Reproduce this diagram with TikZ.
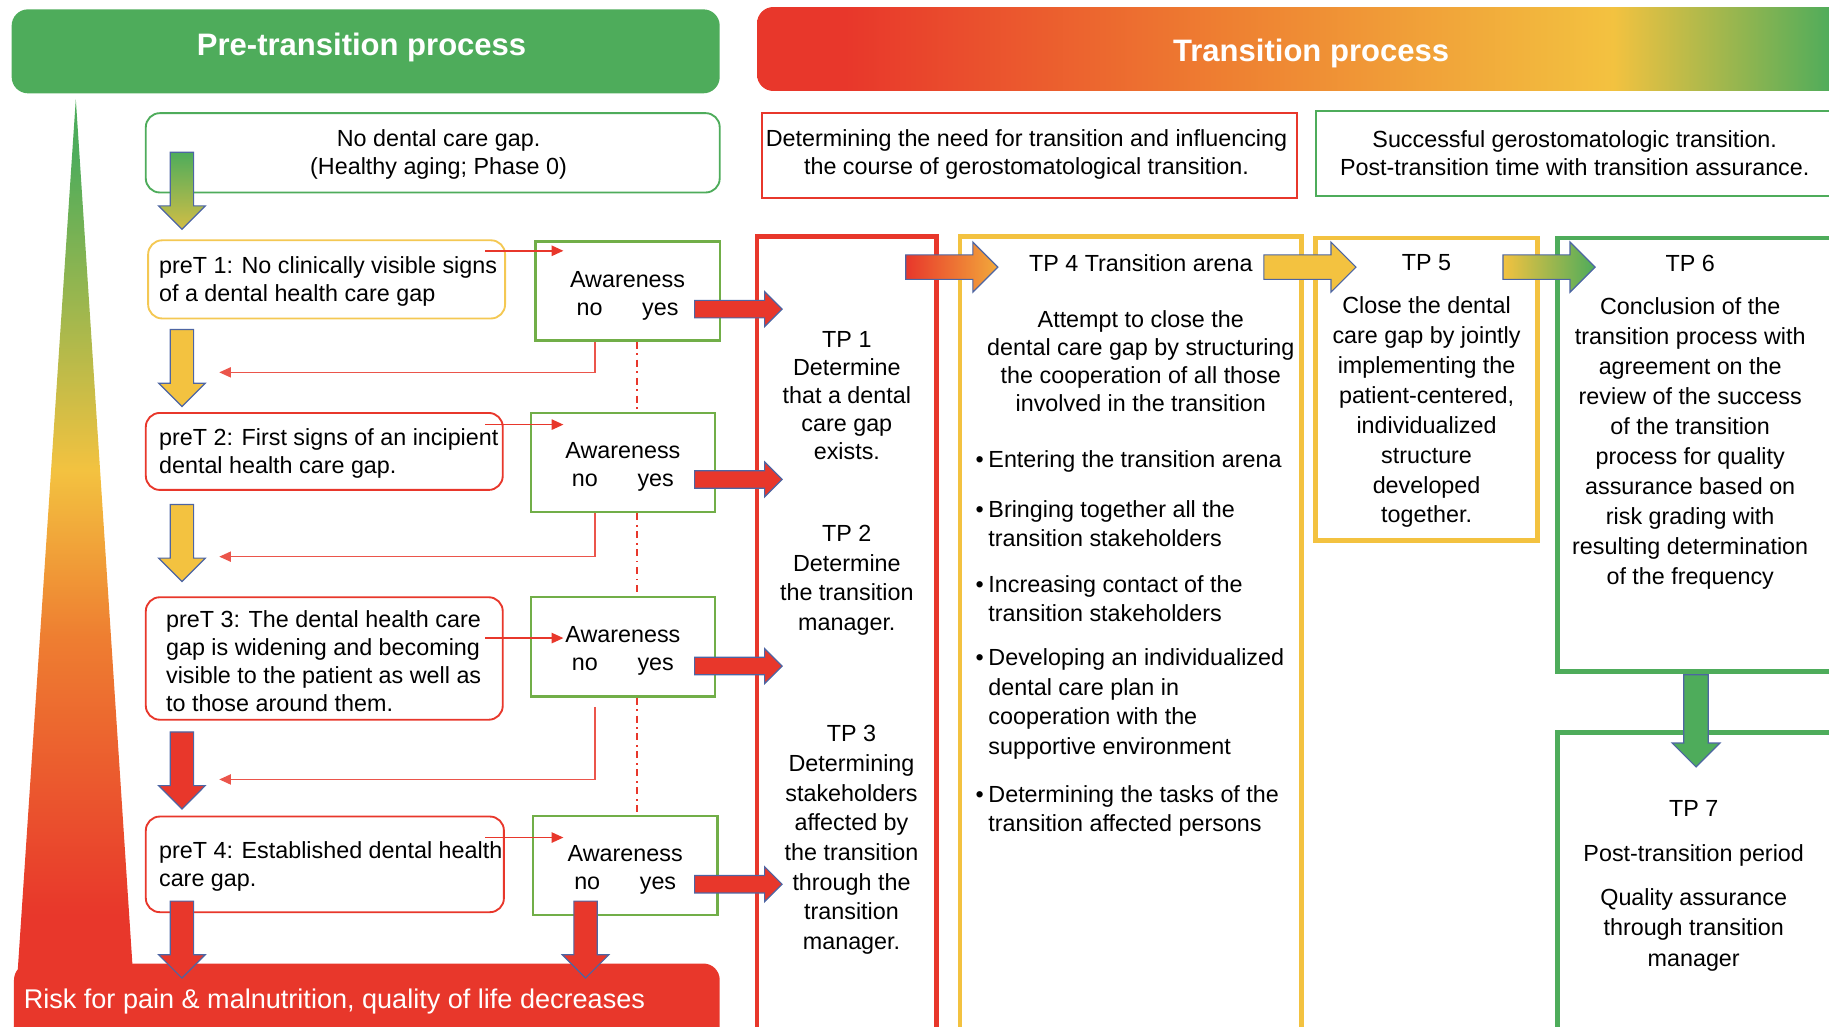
\documentclass[tikz,border=0pt]{standalone}
\usepackage{fontspec}
\setmainfont{Liberation Sans}
\usetikzlibrary{shapes.arrows,arrows.meta}

\definecolor{cred}{HTML}{E8372B}
\definecolor{cgreen}{HTML}{4EAC5B}
\definecolor{cyellow}{HTML}{F3C240}
\definecolor{corange}{HTML}{EE7E31}
\definecolor{colive}{HTML}{71AE48}
\definecolor{cblue}{HTML}{4D65A3}
\definecolor{camber}{HTML}{F2A93B}

% risk wedge: green at the apex, red at the base
\pgfdeclareverticalshading{riskshade}{100bp}{color(0bp)=(cred); color(31bp)=(cred); color(46bp)=(corange); color(55bp)=(cyellow); color(72bp)=(cgreen); color(100bp)=(cgreen)}
% transition banner: red -> orange -> yellow -> green
\pgfdeclarehorizontalshading{transshade}{100bp}{color(0bp)=(cred); color(29bp)=(cred); color(46bp)=(corange); color(64bp)=(cyellow); color(74bp)=(cgreen); color(100bp)=(cgreen)}

\newcommand\setfs[2]{\fontsize{#1}{#2}\selectfont}
\newcommand\bul{\makebox[5.5pt][l]{\textbullet}}

\begin{document}
\begin{tikzpicture}[x=0.5pt,y=-0.5pt,
  every node/.style={inner sep=0pt, font=\setfs{10}{12}},
  tx/.style={yshift=-1.25pt},
  rbox/.style={draw, rounded corners=6pt, line width=0.8pt, fill=white},
  awbox/.style={draw=colive, line width=1pt, fill=white, minimum width=79pt, minimum height=42.5pt},
  awtext/.style={tx, align=center},
  column/.style={draw, line width=2.1pt},
  coltext/.style={tx, align=center, font=\setfs{10}{12.7}},
  bullettext/.style={tx, anchor=west, align=left, font=\setfs{10}{12.6}},
  fatH/.style={single arrow, anchor=tail, draw=cblue, line width=0.5pt, inner sep=3.5pt, single arrow head extend=3.75pt, single arrow head indent=0pt, minimum height=37.5pt, fill=cred},
  fatV/.style={single arrow, anchor=tail, shape border rotate=270, draw=cblue, line width=0.5pt, inner sep=4.75pt, single arrow head extend=5pt, single arrow head indent=0pt, minimum height=33pt},
  fatT/.style={single arrow, anchor=tail, draw=cblue, line width=0.5pt, inner sep=5pt, single arrow head extend=5.5pt, single arrow head indent=0pt, minimum height=39.5pt},
  thinarr/.style={draw=cred, line width=0.65pt, -{Triangle[length=5pt,width=4.4pt]}},
  backline/.style={draw=cred!85, line width=0.55pt, -{Triangle[length=5pt,width=4.4pt]}},
  dashdot/.style={draw=cred, line width=0.8pt, dash pattern=on 3pt off 2pt on 0.7pt off 2pt},
  headtext/.style={tx, text=white, font=\bfseries\setfs{13.3}{16}}
]
\useasboundingbox (0,0) rectangle (1568,880);
\clip (0,0) rectangle (1568,880);

% ---------- pre-transition side ----------
\path[shade, shading=riskshade] (65,85) -- (117,880) -- (12,880) -- cycle;
\node[name=riskbar, fill=cred, rounded corners=7pt, minimum width=302.5pt, minimum height=37pt] at (314.5,863) {};
\node[name=risktext, tx, anchor=west, text=white, font=\setfs{11.6}{14}] at (20,856) {Risk for pain \& malnutrition, quality of life decreases};

\node[name=prehead, fill=cgreen, rounded corners=7pt, minimum width=303.5pt, minimum height=36pt] at (313.5,44) {};
\node[name=preheadt, headtext] at (310,38) {Pre-transition process};

% awareness checks
\node[name=aw1, awbox] at (538,249.5) {};
\node[name=aw2, awbox] at (534,396.5) {};
\node[name=aw3, awbox] at (534,554.5) {};
\node[name=aw4, awbox] at (536,742) {};
\node[name=aw1t, awtext] at (538,251) {Awareness\\no\hspace{17pt}yes};
\node[name=aw2t, awtext] at (534,398) {Awareness\\no\hspace{17pt}yes};
\node[name=aw3t, awtext] at (534,555.5) {Awareness\\no\hspace{17pt}yes};
\node[name=aw4t, awtext] at (536,743) {Awareness\\no\hspace{17pt}yes};
\draw[dashdot] ([xshift=4pt]aw1.south) -- ([xshift=4pt]aw1.south |- aw2.north);
\draw[dashdot] ([xshift=6pt]aw2.south) -- ([xshift=6pt]aw2.south |- aw3.north);
\draw[dashdot] ([xshift=6pt]aw3.south) -- ([xshift=6pt]aw3.south |- aw4.north);

\node[name=nogap, rbox, draw=cgreen, minimum width=246pt, minimum height=34pt] at (371,131) {};
\node[name=nogapt, tx, align=center] at (376,130) {No dental care gap.\\(Healthy aging; Phase 0)};

\node[name=pre1, rbox, draw=cyellow!90!white, minimum width=153pt, minimum height=33.5pt] at (280,239.5) {};
\node[name=pre1t, tx, anchor=west, align=left] at (136,238.5) {preT 1: No clinically visible signs\\of a dental health care gap};
\node[name=pre2, rbox, draw=cred, minimum width=153pt, minimum height=33pt] at (278,387) {};
\node[name=pre2t, tx, anchor=west, align=left] at (136,386.5) {preT 2: First signs of an incipient\\dental health care gap.};
\node[name=pre3, rbox, draw=cred, minimum width=153pt, minimum height=52.5pt] at (278,564.5) {};
\node[name=pre3t, tx, anchor=west, align=left] at (142,564.5) {preT 3: The dental health care\\gap is widening and becoming\\visible to the patient as well as\\to those around them.};
\node[name=pre4, rbox, draw=cred, minimum width=153.5pt, minimum height=41pt] at (278.5,741) {};
\node[name=pre4t, tx, anchor=west, align=left] at (136,740.5) {preT 4: Established dental health\\care gap.};

% ---------- transition side ----------
\node[name=transhead, shade, shading=transshade, rounded corners=7pt, minimum width=470.5pt, minimum height=36pt] at (1119.5,42) {};
\node[name=transheadt, headtext] at (1124,43) {Transition process};

\node[name=need, draw=cred, line width=1pt, minimum width=229.5pt, minimum height=36.5pt] at (882.5,133.5) {};
\node[name=needt, tx, align=center] at (880,130) {Determining the need for transition and influencing\\the course of gerostomatological transition.};
\node[name=success, draw=cgreen, line width=1pt, minimum width=236pt, minimum height=36.5pt] at (1364,131.5) {};
\node[name=successt, tx, align=center] at (1350,128.5) {Successful gerostomatologic transition.\\Post-transition time with transition assurance.};

\node[name=tp13, column, draw=cred, minimum width=77pt, minimum height=348.5pt] at (726,551.5) {};
\node[name=tp4, column, draw=cyellow, minimum width=146.5pt, minimum height=348.5pt] at (969.5,551.5) {};
\node[name=tp5, column, draw=cyellow, minimum width=95pt, minimum height=129.5pt] at (1223,333.5) {};
\node[name=tp6, column, draw=cgreen, minimum width=132.5pt, minimum height=186pt] at (1467.5,390) {};
\node[name=tp7, column, draw=cgreen, minimum width=132.5pt, minimum height=136pt] at (1467.5,764) {};

\node[name=tp1t, coltext, font=\setfs{10}{12}] at (726,337) {TP 1\\Determine\\that a dental\\care gap\\exists.};
\node[name=tp2t, coltext] at (726,495) {TP 2\\Determine\\the transition\\manager.};
\node[name=tp3t, coltext] at (730,717.5) {TP 3\\Determining\\stakeholders\\affected by\\the transition\\through the\\transition\\manager.};

\node[name=tp4title, tx] at (978,223) {TP 4 Transition arena};
\node[name=tp4t, tx, align=center] at (978,307.5) {Attempt to close the\\dental care gap by structuring\\the cooperation of all those\\involved in the transition};
\node[name=b1, bullettext] at (836,393) {\bul Entering the transition arena};
\node[name=b2, bullettext] at (836,446.5) {\bul Bringing together all the\\\hspace*{5.5pt}transition stakeholders};
\node[name=b3, bullettext] at (836,510.5) {\bul Increasing contact of the\\\hspace*{5.5pt}transition stakeholders};
\node[name=b4, bullettext] at (836,601) {\bul Developing an individualized\\\hspace*{5.5pt}dental care plan in\\\hspace*{5.5pt}cooperation with the\\\hspace*{5.5pt}supportive environment};
\node[name=b5, bullettext] at (836,692.5) {\bul Determining the tasks of the\\\hspace*{5.5pt}transition affected persons};

\node[name=tp5title, tx] at (1223,223) {TP 5};
\node[name=tp5t, coltext, font=\setfs{10}{12.8}] at (1223,351) {Close the dental\\care gap by jointly\\implementing the\\patient-centered,\\individualized\\structure\\developed\\together.};
\node[name=tp6title, tx] at (1449,223) {TP 6};
\node[name=tp6t, coltext, font=\setfs{10}{12.85}] at (1449,378) {Conclusion of the\\transition process with\\agreement on the\\review of the success\\of the transition\\process for quality\\assurance based on\\risk grading with\\resulting determination\\of the frequency};
\node[name=tp7title, tx] at (1452,690.5) {TP 7};
\node[name=tp7sub, tx] at (1452,730.5) {Post-transition period};
\node[name=tp7t, coltext, font=\setfs{10}{13}] at (1452,794.5) {Quality assurance\\through transition\\manager};

% ---------- thin connectors ----------
\draw[thinarr] ([shift={(-18,-24.5)}]pre1.east) -- ([shift={(25,-34.5)}]aw1.west);
\draw[thinarr] ([shift={(-16,-23)}]pre2.east) -- ([shift={(29,-32.5)}]aw2.west);
\draw[thinarr] ([shift={(-16,-17.5)}]pre3.east) -- ([shift={(29,-7.5)}]aw3.west);
\draw[thinarr] ([shift={(-17,-23)}]pre4.east) -- ([shift={(27,-24)}]aw4.west);

% ---------- block arrows ----------
\node[name=ar0, fatV, top color=cgreen, bottom color=cyellow!80!cgreen] at (156,130) {};
\node[name=ar1, fatV, fill=cyellow] at (156,282) {};
\node[name=ar2, fatV, fill=cyellow] at (156,432) {};
\node[name=ar3, fatV, fill=cred] at (156,627) {};
\node[name=ar4, fatV, fill=cred] at (156,772) {};
\node[name=ar5, fatV, fill=cred] at (502,772) {};

\draw[backline] ([xshift=-14pt]aw1.south) |- ([shift={(32,-30)}]ar1.tip);
\draw[backline] ([xshift=-12pt]aw2.south) |- ([shift={(32,-22)}]ar2.tip);
\draw[backline] ([shift={(-24,8)}]aw3.south) |- ([shift={(32,-26)}]ar3.tip);

\node[name=ya1, fatH] at (595,265) {};
\node[name=ya2, fatH] at (595,411) {};
\node[name=ya3, fatH] at (595,571) {};
\node[name=ya4, fatH] at (595,758) {};

\node[name=ta, fatT, left color=cred, right color=camber] at (776,229) {};
\node[name=tb, fatT, fill=cyellow] at (1083,229) {};
\node[name=tc, fatT, left color=cyellow, right color=cgreen] at (1288,229) {};
\node[name=td, fatV, fill=cgreen, inner sep=5pt, minimum height=39.5pt] at (1454,578) {};
\end{tikzpicture}
\end{document}
